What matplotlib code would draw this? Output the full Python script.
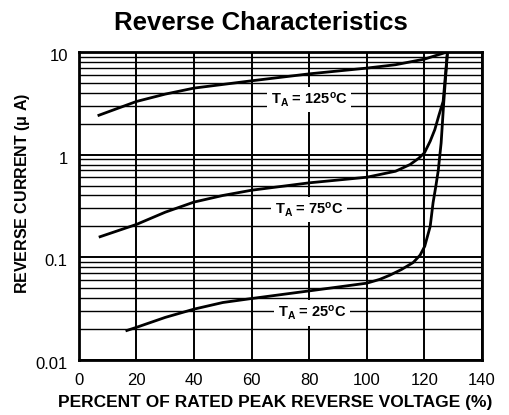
import matplotlib
matplotlib.use("Agg")
import matplotlib.pyplot as plt
from matplotlib.ticker import FixedLocator, LogLocator, NullFormatter
from matplotlib.transforms import ScaledTranslation

plt.rcParams['font.family'] = ['Liberation Sans', 'DejaVu Sans']
plt.rcParams['mathtext.fontset'] = 'custom'
plt.rcParams['mathtext.rm'] = 'Liberation Sans:bold'
plt.rcParams['mathtext.bf'] = 'Liberation Sans:bold'
plt.rcParams['mathtext.it'] = 'Liberation Sans:bold'

# Data
x_125 = [6.5, 20, 30, 40, 60, 80, 100, 110, 120, 128]
y_125 = [2.39, 3.29, 3.88, 4.44, 5.23, 6.11, 6.95, 7.5, 8.5, 10.0]

x_75 = [6.9, 20, 30, 40, 50, 60, 80, 100, 110, 115, 118, 120, 122, 123.6, 125, 126.5, 128]
y_75 = [0.157, 0.209, 0.275, 0.345, 0.40, 0.45, 0.531, 0.602, 0.689, 0.80, 0.92, 1.04, 1.35, 1.75, 2.4, 3.3, 10.0]

x_25 = [16.2, 20, 30, 40, 50, 60, 80, 100, 104.5, 108, 112, 116.1, 118.5, 120.1, 122, 123, 124, 124.8, 125.8, 126.7, 128]
y_25 = [0.0192, 0.0208, 0.026, 0.0313, 0.0363, 0.0397, 0.0471, 0.056, 0.061, 0.067, 0.076, 0.089, 0.105, 0.128, 0.2, 0.34, 0.5, 0.7, 1.3, 3.2, 10.0]

labels = [r'T$_{\mathbf{A}}$ = 125$^{\mathbf{o}}$C',
          r'T$_{\mathbf{A}}$ = 75$^{\mathbf{o}}$C',
          r'T$_{\mathbf{A}}$ = 25$^{\mathbf{o}}$C']
label_x = [80, 80, 81]
label_y = [3.42, 0.292, 0.0286]

x_ticks = [0, 20, 40, 60, 80, 100, 120, 140]
y_ticks = [0.01, 0.1, 1, 10]
y_ticklabels = ['0.01', '0.1', '1', '10']

fig = plt.figure(figsize=(5.09, 4.15), dpi=100)
ax = fig.add_axes([0.155, 0.1325, 0.792, 0.7425])

ax.set_yscale('log')
ax.set_xlim(0, 140)
ax.set_ylim(0.01, 10)

for xs, ys in [(x_125, y_125), (x_75, y_75), (x_25, y_25)]:
    ax.plot(xs, ys, color='black', lw=2.0, zorder=3, solid_capstyle='butt')

ax.set_xticks(x_ticks)
ax.set_xticklabels([str(t) for t in x_ticks])
ax.yaxis.set_major_locator(FixedLocator(y_ticks))
ax.set_yticklabels(y_ticklabels)
ax.yaxis.set_minor_locator(LogLocator(base=10, subs=range(2, 10)))
ax.yaxis.set_minor_formatter(NullFormatter())

ax.grid(True, which='major', color='black', lw=1.4, zorder=1)
ax.grid(True, which='minor', axis='y', color='black', lw=1.0, zorder=1)
ax.tick_params(which='both', length=0, labelsize=12)
ax.tick_params(axis='x', pad=9)
ax.tick_params(axis='y', pad=8)

off = ScaledTranslation(0, -0.03, fig.dpi_scale_trans)
for lbl in ax.get_yticklabels():
    lbl.set_transform(lbl.get_transform() + off)

for s in ax.spines.values():
    s.set_linewidth(2.0)
    s.set_zorder(4)

for lab, lx, ly in zip(labels, label_x, label_y):
    ax.text(lx, ly, lab, ha='center', va='center', fontsize=10.5,
            fontweight='bold', zorder=5,
            bbox=dict(facecolor='white', edgecolor='none', pad=2.5))

ax.set_xlabel('PERCENT OF RATED PEAK REVERSE VOLTAGE (%)', fontsize=12.5,
              fontweight='bold')
ax.xaxis.set_label_coords(0.4876, -0.112)
ax.set_ylabel(r'REVERSE CURRENT ($\mathbf{\mu}$ A)', fontsize=11.5,
              fontweight='bold')
ax.yaxis.set_label_coords(-0.117, 0.542)
fig.text(0.512, 0.944, 'Reverse Characteristics', ha='center', va='center',
         fontsize=18.5, fontweight='bold')

fig.savefig('out.png', dpi=100)
